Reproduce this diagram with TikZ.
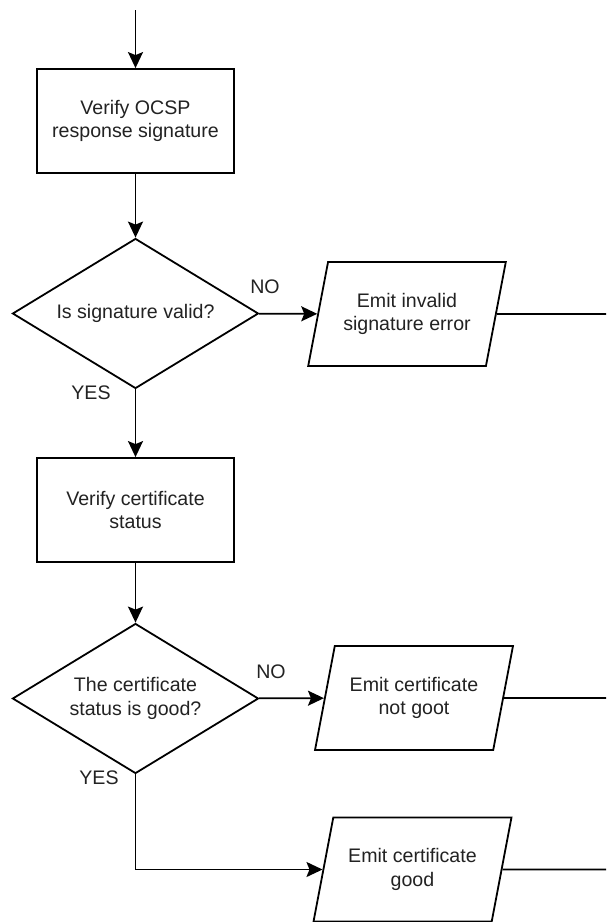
\documentclass[tikz,border=0pt]{standalone}
\usepackage{fontspec}
\setmainfont{Liberation Sans}
\usetikzlibrary{shapes.geometric,arrows.meta}
\definecolor{ink}{HTML}{222222}
\begin{document}
\begin{tikzpicture}[x=1pt,y=-1pt,
  font=\fontsize{19.6}{23.5}\selectfont,
  flow/.style={line width=1.8pt,draw=black,text=ink,align=center,inner sep=0pt},
  process/.style={flow,rectangle,minimum width=197pt,minimum height=104pt},
  decision/.style={flow,diamond,shape aspect=1.65,minimum width=246pt,minimum height=150pt},
  io/.style={flow,trapezium,trapezium left angle=69,trapezium right angle=111,
    trapezium stretches=true,minimum width=198pt,minimum height=104pt},
  flowarrow/.style={line width=1.8pt,-{Stealth[length=16pt,width=15pt,inset=3pt]}},
  link/.style={line width=1.8pt},
  tag/.style={text=ink,inner sep=0pt}]
\useasboundingbox (0,0) rectangle (606,922);

% entry point and blocks
\coordinate (entry) at (135.5,10);
\node[process]  (verifysig)  at (135.5,121)   {Verify OCSP\\response signature};
\node[decision] (sigok)      at (135.5,313.5) {Is signature valid?};
\node[io]       (sigerr)     at (407,314)     {Emit invalid\\signature error};
\coordinate     (sigerrout)  at (606,314);
\node[process]  (verifystat) at (135.5,510)   {Verify certificate\\status};
\node[decision] (statok)     at (135.5,698.5) {The certificate\\status is good?};
\node[io]       (notgood)    at (414,698)     {Emit certificate\\not goot};
\coordinate     (notgoodout) at (606,698);
\node[io]       (good)       at (412.5,869.5) {Emit certificate\\good};
\coordinate     (goodout)    at (606,869.5);

% branch labels
\node[tag] at (265,287) {NO};
\node[tag] at (91,393)  {YES};
\node[tag] at (271,672) {NO};
\node[tag] at (99,778)  {YES};

% connectors
\draw[flowarrow] (entry) -- (verifysig);
\draw[flowarrow] (verifysig) -- (sigok);
\draw[flowarrow] (sigok) -- (sigerr);
\draw[link] (sigerr) -- (sigerrout);
\draw[flowarrow] (sigok) -- (verifystat);
\draw[flowarrow] (verifystat) -- (statok);
\draw[flowarrow] (statok) -- (notgood);
\draw[link] (notgood) -- (notgoodout);
\draw[flowarrow] (statok) |- (good);
\draw[link] (good) -- (goodout);
\end{tikzpicture}
\end{document}
